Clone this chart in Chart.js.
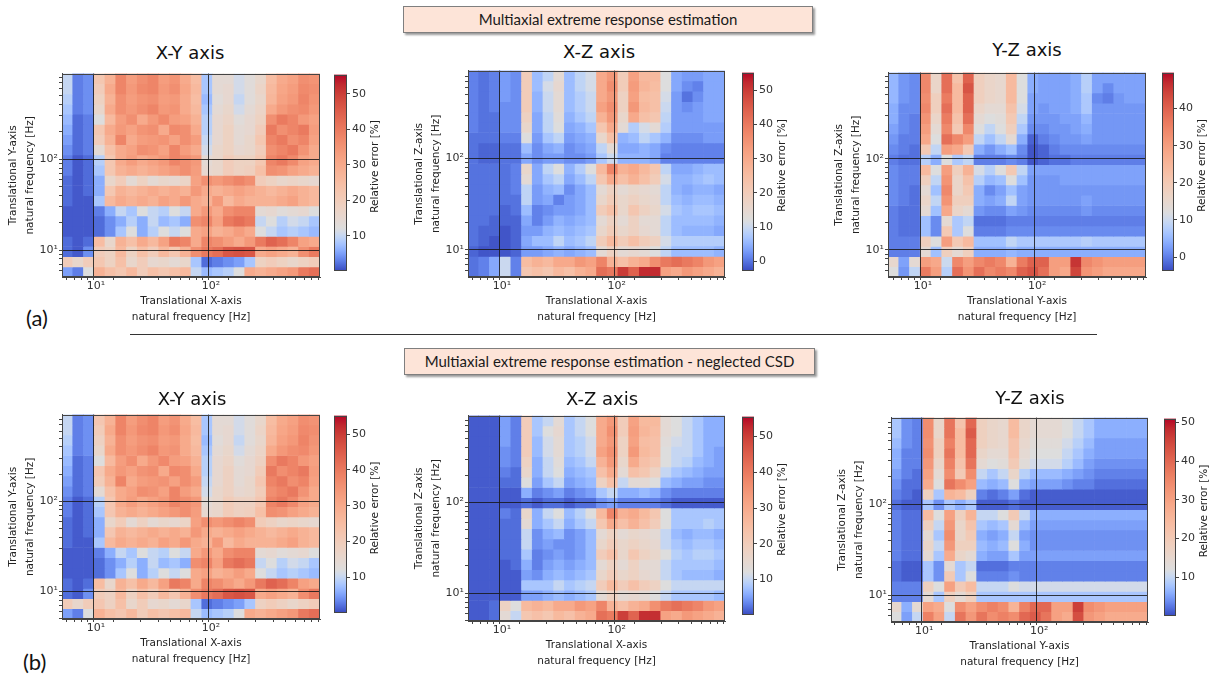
<!DOCTYPE html>
<html lang="en">
<head>
<meta charset="UTF-8">
<title>Multiaxial extreme response estimation</title>
<script src="https://cdn.jsdelivr.net/npm/chart.js"></script>
<style>
  body { margin: 0; background: #fff; }
  #page { position: relative; width: 1218px; height: 683px; overflow: hidden; font-family: "DejaVu Sans", sans-serif; }
  #page canvas { position: absolute; }
  .banner { position: absolute; box-sizing: border-box; height: 27px; background: #fde4d8; border: 1px solid #7f7f7f;
            box-shadow: 2px 2px 2px #9a9a9a; font-family: Lato, "Open Sans", sans-serif; font-size: 15px;
            color: #1a1a1a; text-align: center; line-height: 25px; }
  .ptitle { position: absolute; width: 200px; text-align: center; font-size: 18px; line-height: 22px; color: #111; }
  .tag { position: absolute; font-family: Lato, sans-serif; font-size: 22px; line-height: 24px; color: #111; }
  #divider { position: absolute; left: 130px; top: 334px; width: 967px; border-top: 1px solid #333; }
</style>
</head>
<body>
<div id="page">
  <div class="banner" style="left:403px; top:6px; width:410px;">Multiaxial extreme response estimation</div>
  <div class="banner" style="left:404px; top:348px; width:411px;">Multiaxial extreme response estimation - neglected CSD</div>
  <div id="divider"></div>
  <div class="tag" style="left:26px; top:306px;">(a)</div>
  <div class="tag" style="left:23px; top:650px;">(b)</div>
</div>

<script>
// relative error [%], rows from top (highest frequency) to bottom, columns from low to high frequency
const xyErr = [
  [10,3,4,22,28,38,33,36,38,33,35,30,25,8,14,14,11,13,16,25,30,32,36,35],
  [10,3,4,20,30,38,34,37,38,34,36,31,26,8,14,15,11,13,17,26,31,33,37,36],
  [9,3,4,18,28,36,33,35,36,33,34,30,25,7,13,15,10,13,16,27,32,34,38,35],
  [8,3,4,16,30,36,34,36,38,34,35,30,26,8,14,16,11,14,17,30,34,36,37,34],
  [7,2,3,12,26,33,36,30,34,37,33,32,28,9,15,17,13,15,18,36,40,38,34,32],
  [6,2,3,22,30,34,32,35,36,30,37,36,30,9,15,18,14,15,20,40,36,38,40,33],
  [5,2,3,20,28,38,30,33,34,35,32,36,33,10,15,18,14,16,22,38,40,36,38,32],
  [4,2,3,14,24,30,32,36,35,32,38,33,30,11,16,18,15,16,20,36,38,40,35,30],
  [3,1,2,9,22,30,33,30,32,34,38,36,34,14,16,20,18,18,22,38,40,37,32,30],
  [3,1,2,8,22,28,30,28,30,32,34,36,33,15,16,20,18,19,24,36,35,32,30,28],
  [2,1,2,6,16,20,14,18,14,16,15,17,32,36,34,36,38,36,20,18,16,17,16,15],
  [2,1,2,6,22,28,26,28,30,28,30,28,34,30,28,30,32,30,28,26,28,30,28,26],
  [2,1,1,8,26,30,28,30,28,32,30,34,30,28,34,26,30,28,28,28,30,32,28,26],
  [1,1,1,3,6,10,8,12,10,9,12,10,30,34,30,36,38,38,14,15,13,14,15,12],
  [1,1,1,2,4,6,9,6,10,7,8,6,36,38,32,40,42,40,10,12,9,11,10,8],
  [1,1,1,2,4,8,12,6,9,12,10,12,30,32,28,30,33,30,12,10,8,9,8,7],
  [2,1,2,25,16,28,24,30,26,32,40,38,30,38,36,33,30,34,40,44,42,38,32,30],
  [2,1,4,20,18,26,18,24,20,26,22,28,36,40,42,46,47,46,30,32,30,28,36,40],
  [20,16,20,22,18,24,16,20,15,16,14,16,8,2,3,4,5,8,18,20,18,16,18,20],
  [5,3,12,28,24,22,26,20,24,22,24,26,10,7,8,9,12,30,28,30,32,34,40,42]
];

const xzErr = [
  [1,0,1,3,2,20,6,9,14,6,9,11,30,34,20,32,26,26,12,4,3,3,4,4],
  [1,0,1,3,2,20,6,11,15,6,9,11,30,36,20,33,27,25,12,4,2,1,4,4],
  [1,0,1,3,2,20,5,10,14,6,8,10,30,34,18,32,25,24,11,3,0,2,4,4],
  [1,0,1,2,2,20,5,10,14,6,8,10,32,36,18,34,26,24,10,3,2,3,4,4],
  [1,0,0,2,2,18,4,9,13,5,7,9,28,34,16,30,24,22,9,3,3,3,4,4],
  [1,0,0,2,2,16,4,9,12,4,5,7,22,30,14,8,11,14,8,3,3,3,3,3],
  [0,0,0,1,1,12,3,7,9,3,4,5,16,24,5,6,9,7,5,2,2,2,3,3],
  [0,-1,-1,0,0,6,2,4,5,2,3,4,9,14,4,4,5,4,2,1,1,1,1,1],
  [0,-1,-1,0,0,4,2,3,3,2,2,3,7,10,5,5,5,4,1,1,1,1,1,1],
  [0,0,0,0,1,16,4,9,12,5,8,12,26,38,28,30,26,22,9,4,4,5,6,6],
  [0,0,0,0,1,14,4,7,9,4,6,9,22,30,24,28,24,20,11,5,5,6,7,6],
  [0,0,0,0,1,9,3,5,6,2,4,6,14,18,14,16,15,14,9,5,4,5,5,4],
  [0,0,0,0,0,9,3,4,1,3,4,6,16,20,16,18,16,15,9,6,5,6,6,5],
  [0,0,0,-1,0,6,1,2,3,3,4,6,20,24,16,22,18,16,11,7,6,7,7,6],
  [0,0,-1,-1,-1,4,1,3,5,4,5,6,14,18,14,18,14,14,9,6,6,6,6,5],
  [0,-1,-1,-2,-1,3,3,5,6,5,6,7,16,20,16,18,15,14,9,6,5,5,5,4],
  [0,-1,-2,-2,-1,4,6,6,9,6,7,9,20,26,20,24,20,18,11,8,8,8,8,8],
  [-1,-2,-2,-2,-1,3,3,4,5,4,5,6,14,18,14,15,14,12,9,6,6,6,6,5],
  [0,1,4,10,1,25,28,26,30,30,34,32,38,28,24,28,30,36,40,42,40,38,34,32],
  [0,1,4,10,1,22,24,22,26,24,28,30,42,40,50,44,52,52,32,30,34,32,30,28]
];

const yzErr = [
  [5,2,1,34,16,38,22,40,18,16,15,24,12,4,3,3,3,4,8,3,3,3,3,3],
  [5,2,1,34,16,38,24,42,18,16,15,24,12,4,3,3,3,4,8,3,1,3,3,3],
  [5,2,1,33,18,36,24,40,18,16,15,24,12,3,3,3,3,4,7,1,0,2,3,3],
  [4,1,1,34,18,38,24,40,16,14,14,22,11,3,2,3,3,4,7,2,2,2,2,2],
  [4,1,0,32,16,36,22,38,14,12,13,20,9,2,2,2,3,3,5,2,2,2,2,2],
  [3,1,0,30,14,34,20,34,12,9,12,18,7,1,1,2,2,3,4,2,2,2,2,2],
  [2,0,0,28,12,38,34,30,9,6,9,14,4,-2,0,1,2,2,3,2,2,2,2,2],
  [1,0,-1,20,9,30,28,20,4,2,4,6,1,-3,-2,0,1,1,1,1,1,1,1,1],
  [0,-1,-1,8,4,12,7,9,0,0,0,1,0,-3,-2,-1,-1,0,0,0,0,0,0,0],
  [1,0,0,24,12,30,18,26,11,8,12,20,9,3,3,3,3,3,3,3,3,3,3,3],
  [1,0,0,18,9,32,16,22,8,5,6,12,6,2,2,2,3,3,3,3,3,3,3,3],
  [1,0,-1,14,6,34,16,20,4,1,3,6,3,2,2,2,2,2,2,2,2,2,2,2],
  [1,0,-1,16,9,32,18,18,4,3,4,9,3,2,2,2,2,2,3,2,2,2,2,2],
  [0,-1,-1,14,6,28,16,14,2,1,1,3,2,1,1,1,1,1,2,1,1,1,1,1],
  [0,-1,-1,6,1,14,7,9,-1,-1,-1,0,0,0,0,0,0,0,0,0,0,0,0,0],
  [0,-1,-1,6,1,20,7,12,0,0,0,1,1,1,1,1,1,1,1,1,1,1,1,1],
  [0,0,0,18,12,30,20,24,6,6,6,9,7,7,7,7,7,7,8,7,7,7,7,7],
  [0,0,0,14,6,18,14,18,4,4,4,5,4,4,4,4,4,4,4,4,4,4,4,4],
  [15,3,14,30,28,10,34,30,34,36,34,26,36,40,40,30,30,46,34,32,30,30,30,30],
  [12,2,9,36,30,8,38,32,38,34,36,34,40,42,38,30,28,44,32,30,28,28,28,28]
];

// neglected CSD: the X-Y map reads the same as above
const xyErrNoCsd = xyErr;

const xzErrNoCsd = [
  [1,1,1,5,3,20,8,10,14,8,10,12,30,34,20,32,26,26,14,12,10,8,6,6],
  [1,1,1,5,3,20,8,12,15,8,10,12,30,36,20,33,27,25,14,12,10,8,6,6],
  [1,1,1,5,3,20,7,11,14,8,9,11,30,34,18,32,25,24,13,11,10,8,6,6],
  [1,1,1,4,3,20,7,11,14,8,9,11,32,36,18,34,26,24,12,10,10,8,6,5],
  [1,1,1,4,3,18,6,10,13,7,8,10,28,34,16,30,24,22,12,10,9,7,6,5],
  [1,1,1,3,2,16,6,10,12,6,7,8,24,30,14,24,22,18,10,8,7,6,5,5],
  [1,1,1,2,2,12,5,8,10,5,6,7,18,24,10,14,14,12,7,6,5,5,4,4],
  [1,1,1,1,1,6,3,4,5,3,4,5,8,10,6,6,7,6,4,3,3,3,3,3],
  [1,1,1,1,1,2,1,2,2,1,2,2,4,5,3,3,3,3,2,1,1,1,1,1],
  [1,1,1,3,2,16,6,10,12,7,9,12,26,38,28,30,26,22,12,8,8,8,8,8],
  [1,1,1,2,2,14,6,8,10,6,8,10,22,30,24,28,24,20,12,8,8,8,9,8],
  [1,1,1,2,2,10,4,6,7,4,5,7,14,18,14,16,15,14,10,7,6,7,7,6],
  [1,1,1,2,2,10,4,5,4,4,5,7,16,20,16,18,16,15,10,8,7,8,8,7],
  [1,1,1,2,2,8,3,4,5,4,5,7,20,24,16,22,18,16,12,9,8,9,9,8],
  [1,1,1,1,2,6,3,5,6,5,6,7,14,18,14,18,14,14,10,8,8,8,8,7],
  [1,1,1,1,1,5,4,6,7,6,7,8,16,20,16,18,15,14,10,8,7,7,7,6],
  [1,1,1,1,1,8,8,8,10,8,9,10,20,26,20,24,20,18,12,10,10,10,10,10],
  [1,1,1,1,1,5,5,6,7,6,7,8,14,18,14,15,14,12,10,8,8,8,8,7],
  [1,1,2,18,12,26,28,26,30,30,34,32,38,28,24,28,30,36,40,42,40,38,34,32],
  [1,1,2,14,10,22,24,22,26,24,28,30,42,40,50,44,52,52,32,30,34,32,30,28]
];

const yzErrNoCsd = [
  [8,4,3,34,16,38,22,40,18,16,15,24,16,14,14,14,12,10,8,6,6,6,6,6],
  [8,4,3,34,16,38,24,42,18,16,15,24,16,14,14,14,12,10,8,6,6,6,6,6],
  [7,4,3,33,18,36,24,40,18,16,15,22,15,13,13,13,11,9,7,5,5,5,5,5],
  [6,3,3,34,18,38,24,40,16,14,14,22,14,12,12,12,10,8,6,5,5,5,5,5],
  [6,3,3,32,16,36,22,38,14,12,13,20,13,11,11,11,9,7,5,4,4,4,4,4],
  [5,3,2,30,14,34,20,34,10,8,10,16,9,7,7,7,6,5,4,3,3,3,3,3],
  [4,2,2,28,12,38,34,30,7,6,7,12,6,5,5,5,4,3,3,2,2,2,2,2],
  [3,2,1,18,8,26,24,18,3,2,3,5,2,1,1,1,1,1,1,1,1,1,1,1],
  [2,1,1,8,4,8,6,8,1,1,1,2,1,1,1,1,1,1,1,1,1,1,1,1],
  [3,2,2,24,12,30,18,26,10,10,12,20,10,6,6,6,6,6,6,6,6,6,6,6],
  [3,2,2,18,10,32,16,22,8,7,8,14,7,5,5,5,5,5,5,5,5,5,5,5],
  [3,2,2,14,8,34,16,20,6,5,6,10,5,4,4,4,4,4,4,4,4,4,4,4],
  [3,2,2,16,10,32,18,18,7,6,7,12,6,4,4,4,4,4,4,4,4,4,4,4],
  [3,2,2,14,8,28,16,14,6,5,5,8,5,5,5,5,5,5,5,5,5,5,5,5],
  [2,1,1,8,4,14,8,10,2,2,2,3,3,3,3,3,3,3,3,3,3,3,3,3],
  [2,1,1,8,4,20,8,12,3,3,3,4,3,3,3,3,3,3,3,3,3,3,3,3],
  [3,3,3,18,12,30,20,24,10,10,10,12,11,11,11,11,11,11,11,11,11,11,11,11],
  [3,3,3,14,8,18,14,18,8,8,8,8,8,8,8,8,8,8,8,8,8,8,8,8],
  [15,6,14,30,28,12,34,30,34,36,34,26,36,40,40,30,30,46,34,32,30,30,30,30],
  [12,5,10,36,30,10,38,32,38,34,36,34,40,42,38,30,28,44,32,30,28,28,28,28]
];

const freqTicks = [5, 6, 7, 8, 9, 10, 20, 30, 40, 50, 60, 70, 80, 90, 100, 200, 300, 400, 500, 600, 700, 800];
const errorTicks = [0, 10, 20, 30, 40, 50];

// matplotlib "coolwarm"
const coolwarmStops = [
  [59,76,192],[68,90,204],[77,104,215],[87,117,225],[98,130,234],[108,142,241],[119,154,247],[130,165,251],
  [141,176,254],[152,185,255],[163,194,255],[174,201,253],[184,208,249],[194,213,244],[204,217,238],[213,219,230],
  [221,221,221],[229,216,209],[236,211,197],[241,204,185],[245,196,173],[247,187,160],[247,177,148],[247,166,135],
  [244,154,123],[241,141,111],[236,127,99],[229,112,88],[222,96,77],[213,80,66],[203,62,56],[192,40,47],[180,4,38]
];
const GRAY_AT = 12;   // the colour scale turns gray near 12 %

function coolwarm(t) {
  t = Math.min(1, Math.max(0, t));
  const f = t * 32, i = Math.min(31, Math.floor(f)), w = f - i;
  const a = coolwarmStops[i], b = coolwarmStops[i + 1];
  const c = a.map((v, k) => Math.round(v + (b[k] - v) * w));
  return `rgb(${c[0]},${c[1]},${c[2]})`;
}

function colorOf(v, range) {
  const [lo, hi] = range;
  const t = v < GRAY_AT ? 0.5 * (v - lo) / (GRAY_AT - lo) : 0.5 + 0.5 * (v - GRAY_AT) / (hi - GRAY_AT);
  return coolwarm(t);
}

const panels = [
  { values: xyErr, title: 'X-Y axis', titleAt: [190, 53], xName: 'Translational X-axis', yName: 'Translational Y-axis',
    xRange: [5.06, 887], yRange: [5.05, 877], cRange: [0.3, 55.4], plot: [62, 68, 258, 209], bar: [334, 68, 13, 209] },
  { values: xzErr, title: 'X-Z axis', titleAt: [599, 52], xName: 'Translational X-axis', yName: 'Translational Z-axis',
    xRange: [5.06, 875], yRange: [5.06, 920], cRange: [-2.6, 55.1], plot: [468, 65, 257, 212], bar: [742, 66, 12, 211] },
  { values: yzErr, title: 'Y-Z axis', titleAt: [1027, 50], xName: 'Translational Y-axis', yName: 'Translational Z-axis',
    xRange: [4.94, 893], yRange: [5.05, 877], cRange: [-3.6, 49.7], plot: [888, 67, 258, 210], bar: [1162, 66, 12, 211] },
  { values: xyErrNoCsd, title: 'X-Y axis', titleAt: [192, 399], xName: 'Translational X-axis', yName: 'Translational Y-axis',
    xRange: [5.06, 887], yRange: [4.95, 912], cRange: [0.2, 55.2], plot: [62, 409, 258, 210], bar: [334, 409, 13, 210] },
  { values: xzErrNoCsd, title: 'X-Z axis', titleAt: [602, 399], xName: 'Translational X-axis', yName: 'Translational Z-axis',
    xRange: [5.06, 875], yRange: [4.97, 900], cRange: [0.2, 55.6], plot: [468, 410, 257, 211], bar: [742, 410, 12, 211] },
  { values: yzErrNoCsd, title: 'Y-Z axis', titleAt: [1030, 398], xName: 'Translational Y-axis', yName: 'Translational Z-axis',
    xRange: [5.13, 887], yRange: [5.05, 900], cRange: [0.1, 51], plot: [891, 412, 257, 210], bar: [1164, 412, 12, 210] }
];

Chart.defaults.font.family = "'DejaVu Sans', sans-serif";
Chart.defaults.color = '#333';

const page = document.getElementById('page');

const framePlugin = {
  id: 'frame',
  afterDraw(chart) {
    const { ctx, chartArea: a } = chart;
    ctx.save();
    ctx.strokeStyle = '#444';
    ctx.lineWidth = 1;
    ctx.strokeRect(Math.round(a.left) + 0.5, Math.round(a.top) + 0.5,
                   Math.round(a.right - a.left) - 1, Math.round(a.bottom - a.top) - 1);
    ctx.restore();
  }
};

const barLabelPlugin = {
  id: 'barLabel',
  afterDraw(chart, args, opts) {
    const { ctx, chartArea: a } = chart;
    ctx.save();
    ctx.translate(a.right + 28, (a.top + a.bottom) / 2 - 6);
    ctx.rotate(-Math.PI / 2);
    ctx.font = "10.5px 'DejaVu Sans'";
    ctx.fillStyle = '#222';
    ctx.textAlign = 'center';
    ctx.textBaseline = 'middle';
    ctx.fillText(opts.text, 0, 0);
    ctx.restore();
  }
};

function addCanvas(left, top, width, height) {
  const c = document.createElement('canvas');
  c.width = width;
  c.height = height;
  c.style.left = left + 'px';
  c.style.top = top + 'px';
  page.appendChild(c);
  return c;
}

const decadeLabel = v => (v === 10 ? '10¹' : v === 100 ? '10²' : '');
const decadeLine = c => (c.tick && (c.tick.value === 10 || c.tick.value === 100)) ? 'rgba(25,25,25,0.85)' : 'rgba(0,0,0,0)';
const keepFreqTicks = s => { s.ticks = freqTicks.filter(v => v >= s.min && v <= s.max).map(v => ({ value: v })); };

function logAxis(range, position, title) {
  const horizontal = position === 'bottom';
  return {
    type: 'logarithmic',
    position: position,
    min: range[0],
    max: range[1],
    afterFit: s => { if (horizontal) s.height = 52; else s.width = 62; },
    afterBuildTicks: keepFreqTicks,
    ticks: { autoSkip: false, maxRotation: 0, padding: horizontal ? 0 : 1, font: { size: 11 }, color: '#333', callback: decadeLabel },
    grid: { z: 1, color: decadeLine, tickColor: '#444', tickLength: 3, drawOnChartArea: true },
    border: { display: true, color: '#444', z: 1 },
    title: {
      display: true,
      text: [title, 'natural frequency [Hz]'],
      font: { size: 10.5, lineHeight: 1.6 },
      color: '#222',
      padding: horizontal ? { top: 0, bottom: 3 } : { top: 5, bottom: 0 }
    }
  };
}

function drawHeatmap(p) {
  const [L, T, W, H] = p.plot;
  const canvas = addCanvas(L - 62, T - 2, 62 + W + 4, 2 + H + 52);
  const nRows = p.values.length;
  const lo = Math.log10(p.yRange[0]), hi = Math.log10(p.yRange[1]);
  const edge = k => Math.pow(10, lo + (hi - lo) * k / nRows);
  const datasets = p.values.map((row, r) => {
    const k = nRows - 1 - r;   // first row is the top band
    return {
      data: row.map(() => [edge(k), edge(k + 1)]),
      backgroundColor: row.map(v => colorOf(v, p.cRange)),
      borderWidth: 0,
      grouped: false,
      barPercentage: 1,
      categoryPercentage: 1,
      xAxisID: 'x',
      yAxisID: 'y'
    };
  });

  new Chart(canvas, {
    type: 'bar',
    data: { labels: p.values[0].map((_, i) => i), datasets: datasets },
    options: {
      responsive: false,
      animation: false,
      events: [],
      layout: { padding: { top: 2, right: 4, left: 0, bottom: 0 }, autoPadding: false },
      plugins: { legend: { display: false }, tooltip: { enabled: false } },
      scales: {
        x: { type: 'category', display: false, offset: true },
        xf: logAxis(p.xRange, 'bottom', p.xName),
        y: logAxis(p.yRange, 'left', p.yName)
      }
    },
    plugins: [framePlugin]
  });

  const t = document.createElement('div');
  t.className = 'ptitle';
  t.textContent = p.title;
  t.style.left = (p.titleAt[0] - 100) + 'px';
  t.style.top = (p.titleAt[1] - 11) + 'px';
  page.appendChild(t);
}

function drawColorbar(p) {
  const [L, T, W, H] = p.bar;
  const canvas = addCanvas(L, T - 2, W + 52, H + 4);
  const [cMin, cMax] = p.cRange;

  new Chart(canvas, {
    type: 'bar',
    data: {
      labels: [''],
      datasets: [{
        data: [[cMin, cMax]],
        backgroundColor: ctx => {
          const area = ctx.chart.chartArea;
          if (!area) return '#ddd';
          const g = ctx.chart.ctx.createLinearGradient(0, area.bottom, 0, area.top);
          for (let k = 0; k <= 60; k++) {
            g.addColorStop(k / 60, colorOf(cMin + (cMax - cMin) * k / 60, p.cRange));
          }
          return g;
        },
        borderWidth: 0,
        barPercentage: 1,
        categoryPercentage: 1
      }]
    },
    options: {
      responsive: false,
      animation: false,
      events: [],
      layout: { padding: { top: 2, bottom: 2, left: 0, right: 30 }, autoPadding: false },
      plugins: { legend: { display: false }, tooltip: { enabled: false }, barLabel: { text: 'Relative error [%]' } },
      scales: {
        x: { type: 'category', display: false, offset: true },
        y: {
          position: 'right',
          min: cMin,
          max: cMax,
          afterFit: s => { s.width = 22; },
          afterBuildTicks: s => { s.ticks = errorTicks.filter(v => v >= cMin && v <= cMax).map(v => ({ value: v })); },
          ticks: { font: { size: 11 }, color: '#333', padding: 2 },
          grid: { drawOnChartArea: false, tickLength: 3, color: '#444' },
          border: { display: false }
        }
      }
    },
    plugins: [framePlugin, barLabelPlugin]
  });
}

panels.forEach(p => { drawHeatmap(p); drawColorbar(p); });
</script>
</body>
</html>
